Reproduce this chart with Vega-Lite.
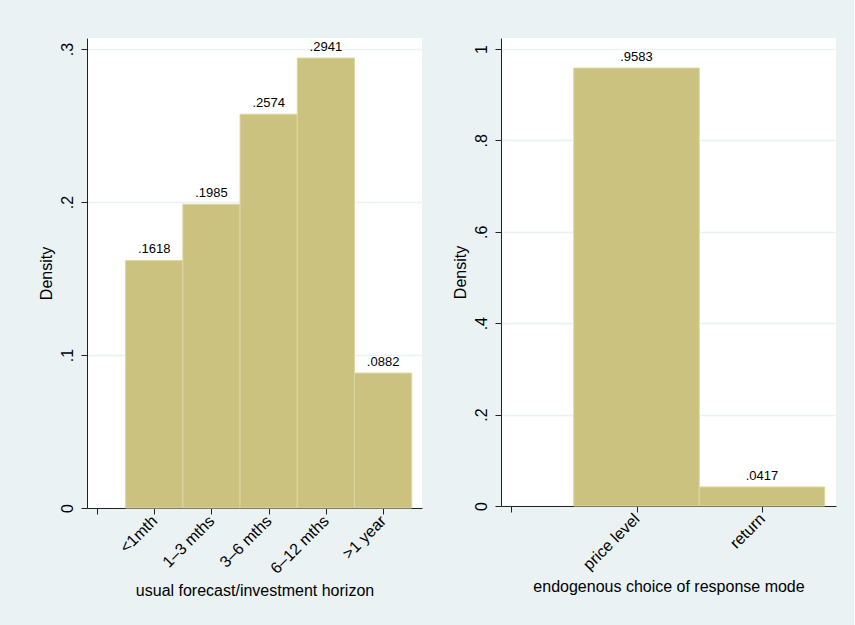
{
  "$schema": "https://vega.github.io/schema/vega-lite/v6.json",
  "background": "#eaf2f3",
  "padding": {"left": 38, "top": 38, "right": 18, "bottom": 32},
  "spacing": 30,
  "config": {
    "font": "Liberation Sans",
    "view": {"fill": "white", "stroke": null},
    "axis": {
      "domainColor": "#222222",
      "tickColor": "#222222",
      "labelColor": "#000000",
      "titleColor": "#000000",
      "labelFont": "Liberation Sans",
      "titleFont": "Liberation Sans",
      "labelFontSize": 16,
      "titleFontSize": 16,
      "titleFontWeight": "normal",
      "tickSize": 6,
      "labelOverlap": false,
      "gridColor": "#eaf2f3",
      "gridWidth": 1.5
    }
  },
  "datasets": {
    "horizon": [
      {"category": "<1mth", "pos": 1, "lo": 0.5, "hi": 1.5, "density": 0.1618, "label": ".1618"},
      {"category": "1–3 mths", "pos": 2, "lo": 1.5, "hi": 2.5, "density": 0.1985, "label": ".1985"},
      {"category": "3–6 mths", "pos": 3, "lo": 2.5, "hi": 3.5, "density": 0.2574, "label": ".2574"},
      {"category": "6–12 mths", "pos": 4, "lo": 3.5, "hi": 4.5, "density": 0.2941, "label": ".2941"},
      {"category": ">1 year", "pos": 5, "lo": 4.5, "hi": 5.5, "density": 0.0882, "label": ".0882"}
    ],
    "mode": [
      {"category": "price level", "pos": 1, "lo": 0.5, "hi": 1.5, "density": 0.9583, "label": ".9583"},
      {"category": "return", "pos": 2, "lo": 1.5, "hi": 2.5, "density": 0.0417, "label": ".0417"}
    ]
  },
  "hconcat": [
    {
      "width": 335,
      "height": 470,
      "data": {"name": "horizon"},
      "layer": [
        {
          "mark": {"type": "rect", "fill": "#cac27e", "stroke": "#dcd8a4", "strokeWidth": 1},
          "encoding": {
            "x": {
              "field": "lo", "type": "quantitative",
              "scale": {"domain": [-0.175, 5.68], "nice": false, "zero": false},
              "axis": {
                "values": [0, 1, 2, 3, 4, 5],
                "labelExpr": "datum.value == 1 ? '<1mth' : datum.value == 2 ? '1–3 mths' : datum.value == 3 ? '3–6 mths' : datum.value == 4 ? '6–12 mths' : datum.value == 5 ? '>1 year' : ''",
                "labelAngle": -45,
                "labelAlign": "right",
                "labelBaseline": "middle",
                "labelPadding": 4,
                "grid": false,
                "title": "usual forecast/investment horizon",
                "titlePadding": 6
              }
            },
            "x2": {"field": "hi"},
            "y": {
              "field": "density", "type": "quantitative",
              "scale": {"domain": [0, 0.3072], "nice": false},
              "axis": {
                "values": [0, 0.1, 0.2, 0.3],
                "labelExpr": "replace(format(datum.value, '~g'), '0.', '.')",
                "labelAngle": -90,
                "labelAlign": "center",
                "labelBaseline": "bottom",
                "labelPadding": 6,
                "grid": true,
                "title": "Density",
                "titlePadding": 5
              }
            },
            "y2": {"datum": 0}
          }
        },
        {
          "mark": {"type": "text", "baseline": "bottom", "dy": -4, "fontSize": 13, "color": "#000000"},
          "encoding": {
            "x": {"field": "pos", "type": "quantitative"},
            "y": {"field": "density", "type": "quantitative"},
            "text": {"field": "label", "type": "nominal"}
          }
        }
      ]
    },
    {
      "width": 335,
      "height": 468,
      "data": {"name": "mode"},
      "layer": [
        {
          "mark": {"type": "rect", "fill": "#cac27e", "stroke": "#dcd8a4", "strokeWidth": 1},
          "encoding": {
            "x": {
              "field": "lo", "type": "quantitative",
              "scale": {"domain": [-0.08, 2.59], "nice": false, "zero": false},
              "axis": {
                "values": [0, 1, 2],
                "labelExpr": "datum.value == 1 ? 'price level' : datum.value == 2 ? 'return' : ''",
                "labelAngle": -45,
                "labelAlign": "right",
                "labelBaseline": "middle",
                "labelPadding": 4,
                "grid": false,
                "title": "endogenous choice of response mode",
                "titlePadding": 6
              }
            },
            "x2": {"field": "hi"},
            "y": {
              "field": "density", "type": "quantitative",
              "scale": {"domain": [0, 1.024], "nice": false},
              "axis": {
                "values": [0, 0.2, 0.4, 0.6, 0.8, 1],
                "labelExpr": "replace(format(datum.value, '~g'), '0.', '.')",
                "labelAngle": -90,
                "labelAlign": "center",
                "labelBaseline": "bottom",
                "labelPadding": 6,
                "grid": true,
                "title": "Density",
                "titlePadding": 5
              }
            },
            "y2": {"datum": 0}
          }
        },
        {
          "mark": {"type": "text", "baseline": "bottom", "dy": -4, "fontSize": 13, "color": "#000000"},
          "encoding": {
            "x": {"field": "pos", "type": "quantitative"},
            "y": {"field": "density", "type": "quantitative"},
            "text": {"field": "label", "type": "nominal"}
          }
        }
      ]
    }
  ]
}
